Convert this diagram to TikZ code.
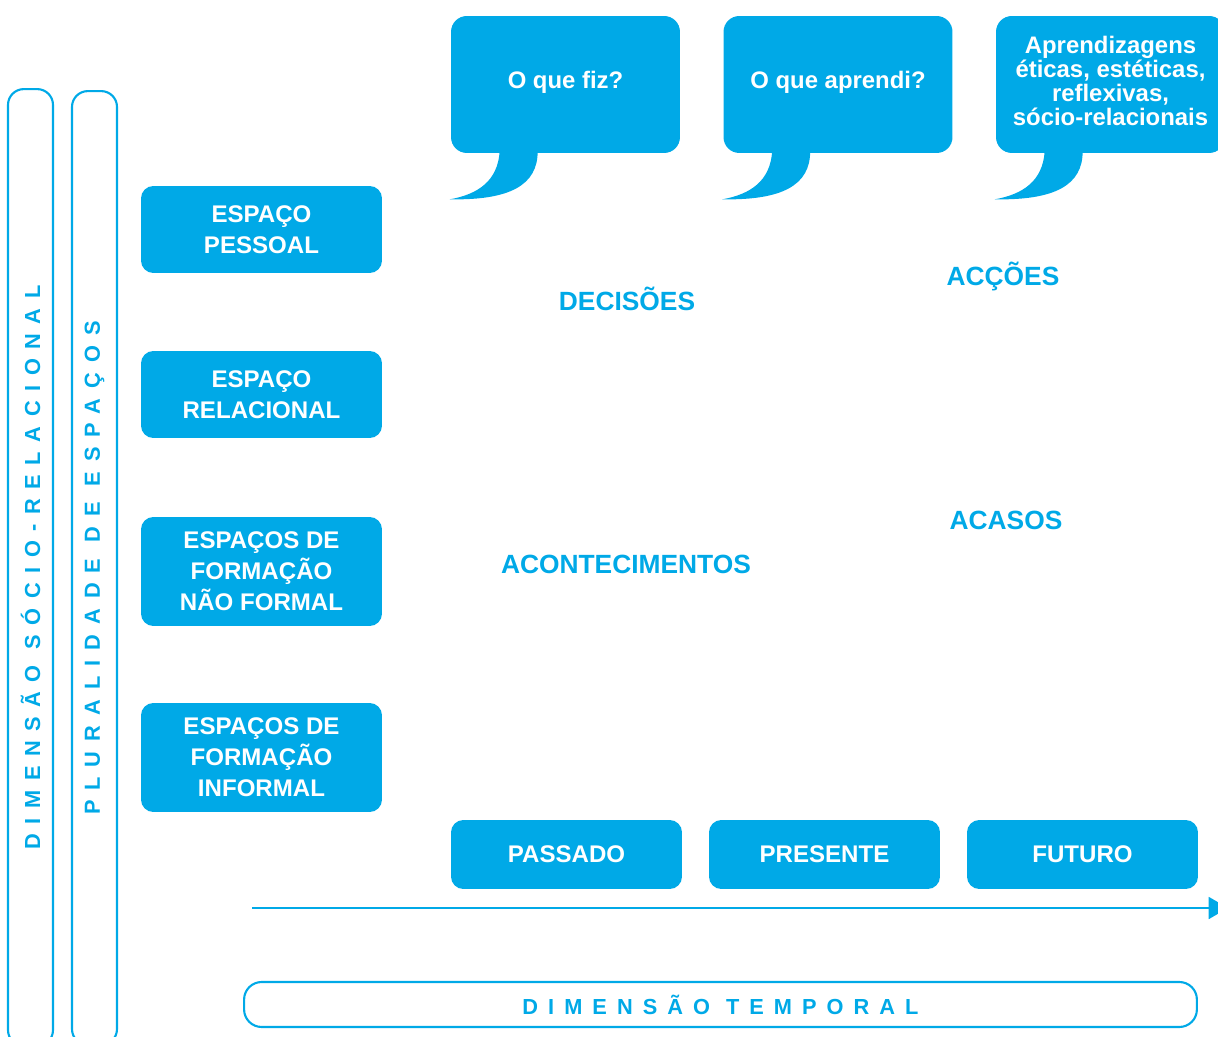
\documentclass[tikz,border=0pt]{standalone}
\usepackage{fontspec}
\setmainfont{Liberation Sans}
\newfontfamily\widefont[LetterSpace=46]{Liberation Sans}
\usetikzlibrary{arrows.meta,calc}
\definecolor{skyblue}{RGB}{0,169,231}

\begin{document}
\begin{tikzpicture}[
    x=0.02cm, y=-0.02cm,
    every node/.style={font=\bfseries},
    spacebox/.style={rectangle, fill=skyblue, text=white, rounded corners=7pt, minimum width=4.82cm, minimum height=1.74cm, align=center, font=\fontsize{13.7}{17.6}\selectfont\bfseries},
    timebox/.style={rectangle, fill=skyblue, text=white, rounded corners=7pt, minimum width=4.62cm, minimum height=1.38cm, font=\fontsize{13.7}{16}\selectfont\bfseries},
    bubble/.style={rectangle, fill=skyblue, text=white, rounded corners=9pt, minimum width=4.58cm, minimum height=2.74cm, align=center, text depth=5pt, font=\fontsize{13.6}{13.6}\selectfont\bfseries},
    axisbox/.style={rectangle, draw=skyblue, line width=1.2pt, rounded corners=9pt, text=skyblue, font=\fontsize{12.4}{14}\selectfont\widefont\bfseries},
    keyword/.style={text=skyblue, font=\fontsize{15}{17}\selectfont\bfseries},
    arrow/.style={-{Triangle[length=11pt, width=12.5pt]}, line width=1.1pt, skyblue}
]
\useasboundingbox (0,0) rectangle (1218,1037);
\clip (0,0) rectangle (1218,1037);

% Axis frames
\node[axisbox, rotate=90, minimum width=19.14cm, minimum height=0.9cm] (social) at (30.5,567.5) {\addfontfeature{LetterSpace=44}DIMENSÃO SÓCIO-RELACIONAL};
\node[axisbox, rotate=90, minimum width=19.08cm, minimum height=0.9cm] (plural) at (94.5,568) {PLURALIDADE DE ESPAÇOS};
\node[axisbox, minimum width=19.06cm, minimum height=0.9cm, rounded corners=10pt] (temporal) at (720.5,1004.5) {DIMENSÃO TEMPORAL};

% Spaces
\node[spacebox] (pessoal) at (261.5,229.5) {ESPAÇO\\PESSOAL};
\node[spacebox] (relacional) at (261.5,394.5) {ESPAÇO\\RELACIONAL};
\node[spacebox, minimum height=2.18cm] (naoformal) at (261.5,571.5) {ESPAÇOS DE\\FORMAÇÃO\\NÃO FORMAL};
\node[spacebox, minimum height=2.18cm] (informal) at (261.5,757.5) {ESPAÇOS DE\\FORMAÇÃO\\INFORMAL};

% Speech bubbles
\node[bubble] (fiz) at (565.5,84.5) {O que fiz?};
\node[bubble] (aprendi) at (838,84.5) {O que aprendi?};
\node[bubble, text depth=4.5pt] (aprendizagens) at (1110.5,84.5) {Aprendizagens\\éticas, estéticas,\\reflexivas,\\sócio-relacionais};
\foreach \b in {fiz,aprendi,aprendizagens}
  \fill[skyblue] ($(\b.south west)+(49,-2)$) .. controls ($(\b.south west)+(47,28)$) and ($(\b.south west)+(27,41)$) .. ($(\b.south west)+(-1,46)$)
    .. controls ($(\b.south west)+(59,47)$) and ($(\b.south west)+(87,32)$) .. ($(\b.south west)+(87,-2)$) -- cycle;

% Keywords
\node[keyword] (decisoes) at (627,299) {DECISÕES};
\node[keyword] (accoes) at (1003,277) {ACÇÕES};
\node[keyword] (acasos) at (1006,520) {ACASOS};
\node[keyword] (acontecimentos) at (626,564) {ACONTECIMENTOS};

% Time
\node[timebox] (passado) at (566.5,854.5) {PASSADO};
\node[timebox] (presente) at (824.5,854.5) {PRESENTE};
\node[timebox] (futuro) at (1082.5,854.5) {FUTURO};

\coordinate (t0) at (252,908);
\coordinate (t1) at (1228,908);
\draw[arrow] (t0) -- (t1);

\end{tikzpicture}
\end{document}
